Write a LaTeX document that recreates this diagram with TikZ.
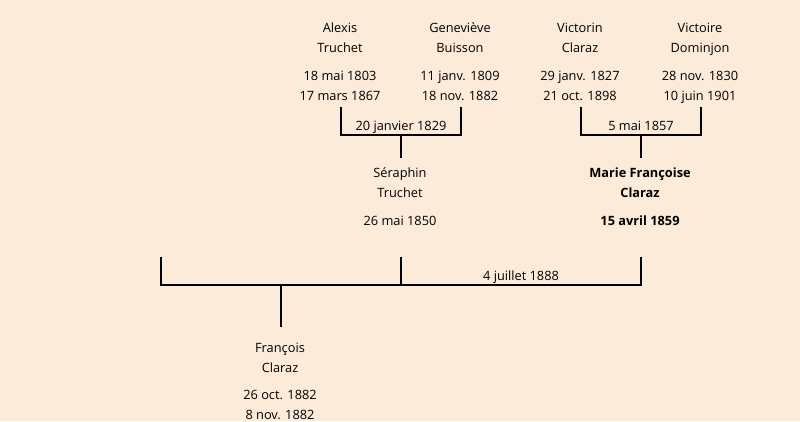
\documentclass[tikz,border=0pt]{standalone}
\usepackage{fontspec}
\setmainfont{Open Sans}
\definecolor{bg}{RGB}{252,235,216}
\begin{document}
\begin{tikzpicture}[x=1pt,y=-1pt,
  txt/.style={align=center,inner sep=0pt,anchor=base,font=\fontsize{12.8}{20}\selectfont},
  btxt/.style={txt,font=\fontsize{12.8}{20}\selectfont\bfseries},
  lbl/.style={inner sep=0pt,anchor=base,font=\fontsize{12.8}{20}\selectfont},
  link/.style={line width=2pt,line cap=rect}]
\fill[bg] (0,0) rectangle (800,421);
\useasboundingbox (0,0) rectangle (800,421);
% grandparents (anchor = baseline of last line)
\node[txt] (alexn) at (340,52) {Alexis\\Truchet};
\node[txt] (alexd) at (340,100) {18 mai 1803\\17 mars 1867};
\node[txt] (genn) at (460,52) {Geneviève\\Buisson};
\node[txt] (gend) at (460,100) {11 janv. 1809\\18 nov. 1882};
\node[txt] (vicn) at (580,52) {Victorin\\Claraz};
\node[txt] (vicd) at (580,100) {29 janv. 1827\\21 oct. 1898};
\node[txt] (vicen) at (700,52) {Victoire\\Dominjon};
\node[txt] (viced) at (700,100) {28 nov. 1830\\10 juin 1901};
% parents
\node[txt] (sern) at (400,197) {Séraphin\\Truchet};
\node[txt] (serd) at (400,225) {26 mai 1850};
\node[btxt] (marn) at (640,197) {Marie Françoise\\Claraz};
\node[btxt] (mard) at (640,225) {15 avril 1859};
% child
\node[txt] (fran) at (280,372) {François\\Claraz};
\node[txt] (frad) at (280,419.5) {26 oct. 1882\\8 nov. 1882};
% marriage labels
\node[lbl] (m1l) at (401,130) {20 janvier 1829};
\node[lbl] (m2l) at (641,130) {5 mai 1857};
\node[lbl] (m3l) at (521,280) {4 juillet 1888};
% coordinates
\coordinate (a1) at (341,108); \coordinate (a2) at (341,135);
\coordinate (g1) at (461,108); \coordinate (g2) at (461,135);
\coordinate (m1) at (401,135); \coordinate (m1b) at (401,157);
\coordinate (v1) at (581,108); \coordinate (v2) at (581,135);
\coordinate (w1) at (701,108); \coordinate (w2) at (701,135);
\coordinate (m2) at (641,135); \coordinate (m2b) at (641,157);
\coordinate (l1) at (161,258); \coordinate (l2) at (161,285);
\coordinate (s1) at (401,258); \coordinate (s2) at (401,285);
\coordinate (r1) at (641,258); \coordinate (r2) at (641,285);
\coordinate (c1) at (281,285); \coordinate (c2) at (281,326);
\draw[link] (a1) -- (a2) -- (g2) -- (g1);
\draw[link] (m1) -- (m1b);
\draw[link] (v1) -- (v2) -- (w2) -- (w1);
\draw[link] (m2) -- (m2b);
\draw[link] (l1) -- (l2) -- (r2) -- (r1);
\draw[link] (s1) -- (s2);
\draw[link] (c1) -- (c2);
\end{tikzpicture}
\end{document}
